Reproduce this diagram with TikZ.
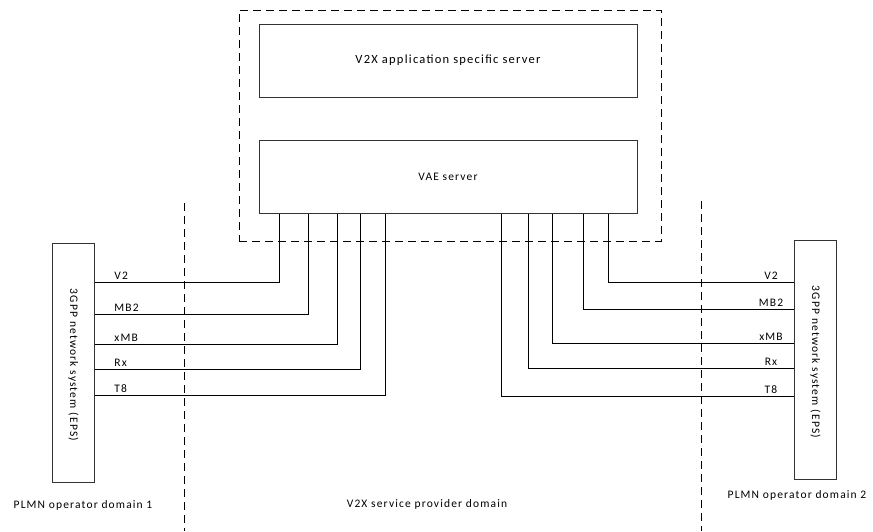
\documentclass[tikz,border=0pt]{standalone}
\usepackage{fontspec}
\setmainfont{Carlito}[LetterSpace=10]
\usetikzlibrary{positioning}

\begin{document}
\begin{tikzpicture}[x=1pt,y=-1pt,line width=0.8pt]
  \tikzstyle{every node}=[font=\fontsize{11.5}{13}\selectfont,inner sep=1pt]
  \tikzstyle{srvbox}=[draw=black!80,rectangle,minimum width=378pt,minimum height=73pt]
  \tikzstyle{epsbox}=[draw=black!80,rectangle,minimum width=42pt,minimum height=239pt]
  \tikzstyle{domline}=[dash pattern=on 8pt off 5pt]
\useasboundingbox (0,0) rectangle (873,531);
% servers in the V2X service provider domain
\node[draw,domline,minimum width=422pt,minimum height=231pt] (provider) at (450,125.5) {};
\node[srvbox,font=\fontsize{12.5}{14}\selectfont] (app) at (448,60.5) {V2X application specific server};
\node[srvbox] (vae) at (448,177) {VAE server};
% 3GPP network systems
\node[epsbox] (epsA) at (73.3,362.5) {};
\node[rotate=-90] at (73.3,365) {3GPP network system (EPS)};
\node[epsbox] (epsB) at (815.3,360) {};
\node[rotate=-90] at (815.3,362) {3GPP network system (EPS)};
% domain borders
\coordinate (borderA) at (184,203);
\coordinate (borderB) at (701,201);
\draw[domline] (borderA) -- (borderA |- 0,531);
\draw[domline] (borderB) -- (borderB |- 0,531);
% reference points towards PLMN 1
\foreach \lab/\y/\x in {V2/282/279, MB2/314/308, xMB/344/337, Rx/369/360, T8/395/385}
{
  \coordinate (la\x) at (\x,0 |- vae.south);
  \draw (epsA.east |- 0,\y) -| (la\x);
  \node[anchor=south west] at (113,\y-1) {\lab};
}
% reference points towards PLMN 2
\foreach \lab/\y/\x in {V2/282/608, MB2/309/583, xMB/343/552, Rx/368/528, T8/396/501}
{
  \coordinate (lb\x) at (\x,0 |- vae.south);
  \draw (epsB.west |- 0,\y) -| (lb\x);
  \node[anchor=south] at (771,\y-1) {\lab};
}
% domain names
\node (domA) at (83,505) {PLMN operator domain 1};
\node (domSP) at (427,504) {V2X service provider domain};
\node (domB) at (797,495) {PLMN operator domain 2};
\end{tikzpicture}
\end{document}
